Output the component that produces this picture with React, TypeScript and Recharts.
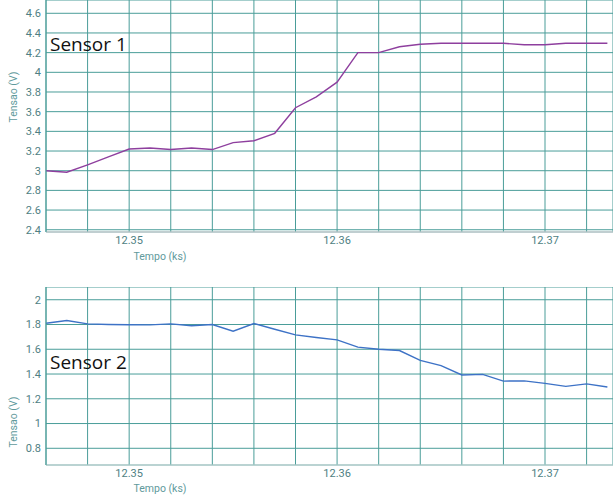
import React from "react";
import { LineChart, Line, XAxis, YAxis, CartesianGrid } from "recharts";

// tempo em ks, uma amostra por segundo
const tempo = [
  12.346, 12.347, 12.348, 12.349, 12.35, 12.351, 12.352, 12.353, 12.354, 12.355,
  12.356, 12.357, 12.358, 12.359, 12.36, 12.361, 12.362, 12.363, 12.364, 12.365,
  12.366, 12.367, 12.368, 12.369, 12.37, 12.371, 12.372, 12.373
];

const sensor1 = [
  3.0, 2.985, 3.06, 3.14, 3.22, 3.23, 3.215, 3.23, 3.215, 3.285,
  3.305, 3.38, 3.64, 3.75, 3.9, 4.2, 4.2, 4.26, 4.285, 4.295,
  4.295, 4.295, 4.295, 4.28, 4.28, 4.295, 4.295, 4.295
];

const sensor2 = [
  1.81, 1.832, 1.805, 1.8, 1.798, 1.797, 1.805, 1.79, 1.8, 1.746,
  1.808, 1.762, 1.716, 1.695, 1.676, 1.617, 1.6, 1.59, 1.51, 1.468,
  1.392, 1.397, 1.343, 1.345, 1.324, 1.3, 1.32, 1.295
];

const xGridTicks = [
  12.348, 12.35, 12.352, 12.354, 12.356, 12.358, 12.36, 12.362, 12.364, 12.366,
  12.368, 12.37, 12.372
];
const xLabelTicks = [12.35, 12.36, 12.37];

const yTicks1 = [2.4, 2.6, 2.8, 3, 3.2, 3.4, 3.6, 3.8, 4, 4.2, 4.4, 4.6];
const yTicks2 = [0.8, 1, 1.2, 1.4, 1.6, 1.8, 2];

const data = tempo.map((t, i) => ({ t, s1: sensor1[i], s2: sensor2[i] }));

const GRID = "#4a9d99";
const TICK = "#4f7f83";
const AXIS_TITLE = "#5f9a9c";
const W = 613;

const fmtX = (v: number) =>
  xLabelTicks.some((l) => Math.abs(l - v) < 1e-6) ? v.toFixed(2) : "";

type PanelProps = {
  top: number;
  height: number;
  dataKey: string;
  color: string;
  domain: [number, number];
  yTicks: number[];
  title: string;
  titleTop: number;
  xTitleTop: number;
  yTitleCenter: number;
  axisColor: string;
};

const Panel = (p: PanelProps) => (
  <div style={{ position: "absolute", left: 0, top: p.top, width: W, height: p.height }}>
    <LineChart width={W} height={p.height} data={data} margin={{ top: 0, right: 0, bottom: 0, left: 0 }}>
      <CartesianGrid stroke={GRID} strokeWidth={1} />
      <XAxis
        dataKey="t"
        type="number"
        domain={[12.346, 12.37327]}
        ticks={xGridTicks}
        tickFormatter={fmtX}
        allowDataOverflow
        height={32}
        tickLine={false}
        tickSize={2}
        tickMargin={2}
        axisLine={{ stroke: p.axisColor }}
        tick={{ fill: TICK, fontSize: 11, fontFamily: "Roboto" }}
        interval={0}
      />
      <YAxis
        type="number"
        domain={p.domain}
        ticks={p.yTicks}
        allowDataOverflow
        width={46}
        tickLine={false}
        tickSize={3}
        tickMargin={2}
        axisLine={{ stroke: GRID }}
        tick={{ fill: TICK, fontSize: 11, fontFamily: "Roboto" }}
        interval={0}
      />
      <Line
        type="linear"
        dataKey={p.dataKey}
        stroke={p.color}
        strokeWidth={1.4}
        dot={false}
        isAnimationActive={false}
      />
    </LineChart>
    <div
      style={{
        position: "absolute",
        left: 50,
        top: p.titleTop,
        fontFamily: "Open Sans",
        fontSize: 19,
        lineHeight: "24px",
        color: "#111"
      }}
    >
      {p.title}
    </div>
    <div
      style={{
        position: "absolute",
        left: 160 - 40,
        width: 80,
        textAlign: "center",
        top: p.xTitleTop,
        fontFamily: "Roboto",
        fontSize: 10.5,
        lineHeight: "12px",
        color: AXIS_TITLE
      }}
    >
      Tempo (ks)
    </div>
    <div
      style={{
        position: "absolute",
        left: 14 - 40,
        width: 80,
        top: p.yTitleCenter - 6,
        textAlign: "center",
        fontFamily: "Roboto",
        fontSize: 10.5,
        lineHeight: "12px",
        color: AXIS_TITLE,
        transform: "rotate(-90deg)"
      }}
    >
      Tensao (V)
    </div>
  </div>
);

export default function App() {
  return (
    <div style={{ position: "absolute", left: 0, top: 0, width: W, height: 497, background: "#fff" }}>
      <Panel
        top={0}
        height={264}
        dataKey="s1"
        color="#8e3f9e"
        domain={[2.377, 4.735]}
        yTicks={yTicks1}
        title="Sensor 1"
        titleTop={32}
        xTitleTop={251}
        yTitleCenter={97}
        axisColor="#dccfd5"
      />
      <Panel
        top={287}
        height={210}
        dataKey="s2"
        color="#3d72c6"
        domain={[0.665, 2.103]}
        yTicks={yTicks2}
        title="Sensor 2"
        titleTop={63}
        xTitleTop={196}
        yTitleCenter={135}
        axisColor="#cfd8d8"
      />
    </div>
  );
}
